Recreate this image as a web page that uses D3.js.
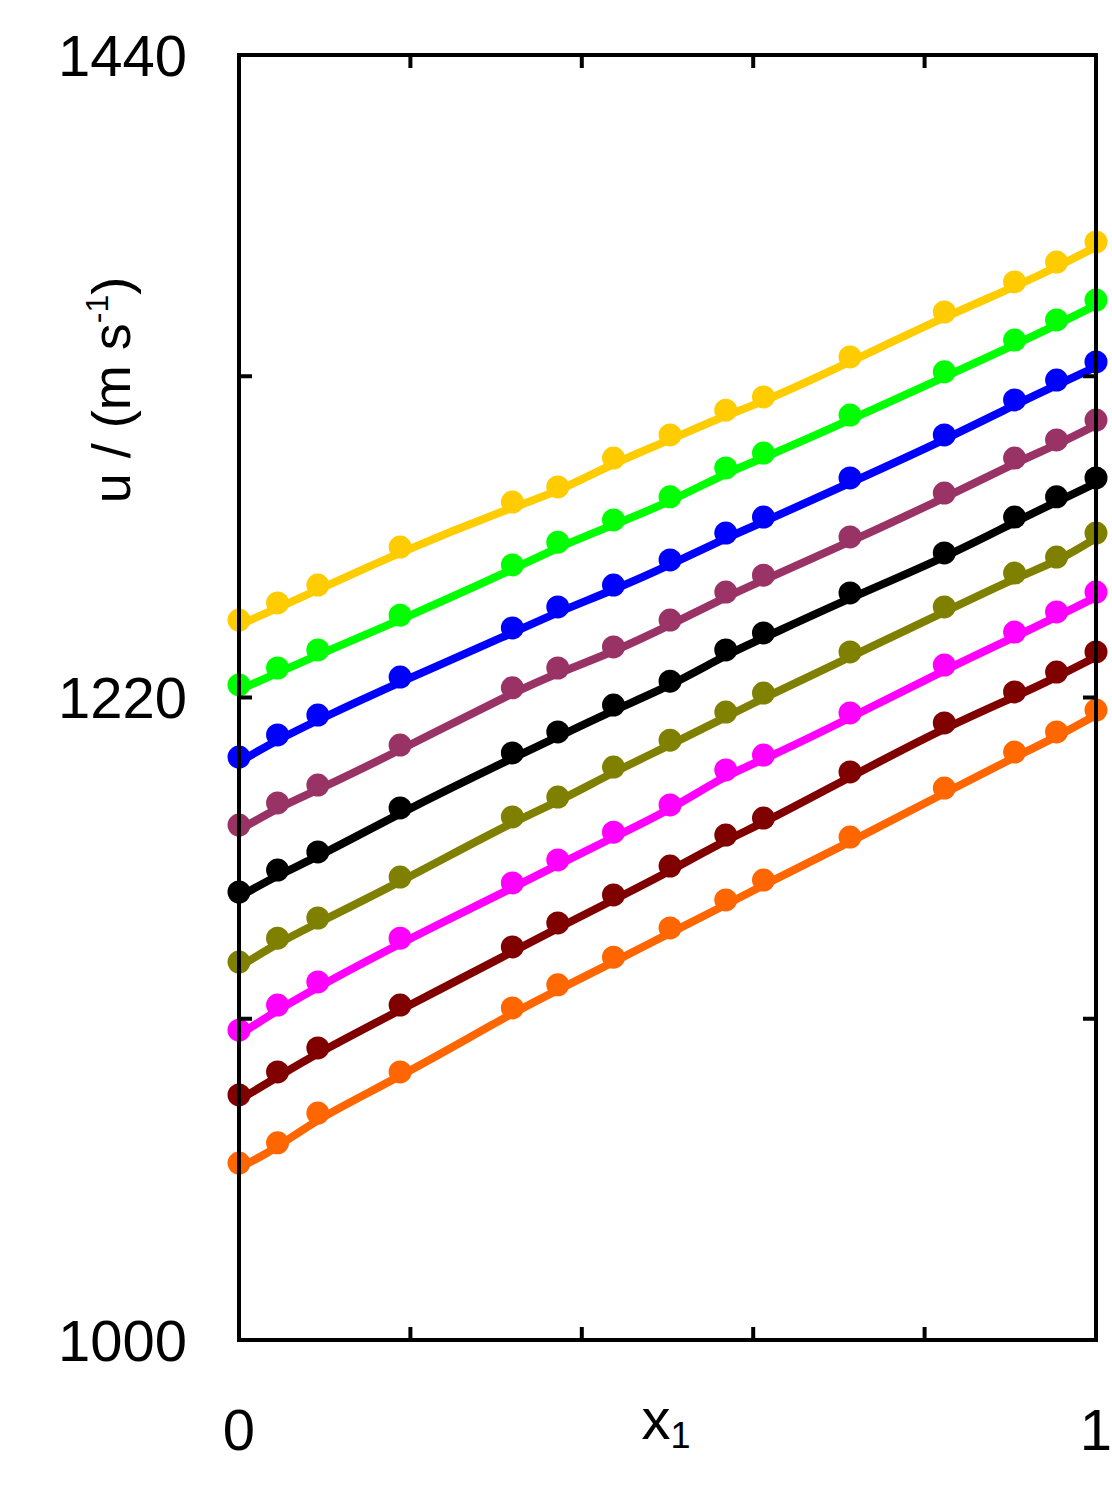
<!DOCTYPE html>
<html>
<head>
<meta charset="utf-8">
<script src="https://cdn.jsdelivr.net/npm/d3@7"></script>
<style>
  body { margin: 0; background: #fff; }
  text { font-family: 'Liberation Sans', Arial, sans-serif; fill: #000; }
</style>
</head>
<body>
<div class="container"></div>
<script>
// mole fraction x1 of each measured point
var xs = [0, 0.045, 0.092, 0.188, 0.319, 0.372, 0.437, 0.503, 0.568, 0.612, 0.713, 0.823, 0.905, 0.954, 1]

// speed of sound u / (m s-1), one list per curve, top to bottom
var uYellow  = [1246.5, 1252.4, 1258.5, 1271.5, 1286.9, 1292.1, 1302.0, 1309.9, 1318.4, 1322.9, 1336.6, 1352.0, 1362.3, 1369.1, 1376.0]
var uGreen   = [1224.3, 1230.1, 1236.3, 1248.2, 1265.4, 1273.2, 1280.8, 1288.7, 1298.6, 1303.7, 1316.7, 1331.5, 1342.4, 1349.3, 1356.1]
var uBlue    = [1199.6, 1207.2, 1214.0, 1227.0, 1243.8, 1251.0, 1258.5, 1267.1, 1276.3, 1281.8, 1295.2, 1309.9, 1321.9, 1328.7, 1334.9]
var uPurple  = [1176.3, 1183.9, 1190.0, 1203.7, 1223.3, 1230.1, 1237.3, 1246.5, 1256.1, 1261.9, 1275.0, 1290.0, 1302.0, 1308.2, 1315.0]
var uBlack   = [1153.4, 1160.9, 1167.1, 1182.2, 1201.0, 1208.2, 1217.4, 1225.6, 1236.3, 1242.1, 1255.8, 1269.5, 1281.8, 1288.7, 1295.2]
var uOlive   = [1129.4, 1137.6, 1144.5, 1158.5, 1179.1, 1185.9, 1196.2, 1205.4, 1215.0, 1221.5, 1235.6, 1251.0, 1262.6, 1268.1, 1276.3]
var uMagenta = [1106.1, 1114.7, 1122.6, 1137.6, 1156.5, 1164.4, 1173.9, 1183.2, 1195.2, 1200.3, 1214.7, 1231.1, 1242.4, 1249.3, 1256.1]
var uDarkRed = [1083.9, 1091.8, 1100.0, 1114.7, 1134.6, 1142.8, 1152.4, 1162.3, 1172.9, 1178.7, 1194.5, 1211.3, 1221.9, 1228.7, 1235.6]
var uOrange  = [1060.6, 1067.5, 1077.7, 1091.8, 1113.7, 1121.6, 1131.1, 1141.1, 1150.7, 1157.5, 1172.2, 1189.0, 1201.3, 1208.2, 1215.7]

var seriesValues = [uYellow, uGreen, uBlue, uPurple, uBlack, uOlive, uMagenta, uDarkRed, uOrange]
var seriesColors = ['#ffcc00', '#00ff00', '#0000ff', '#993366', '#000000', '#808000', '#ff00ff', '#800000', '#ff6600']

var yTicks = [1000, 1110, 1220, 1330, 1440]
var yTickLabels = [1000, 1220, 1440]
var xTicks = [0, 0.2, 0.4, 0.6, 0.8, 1]
var xTickLabels = [0, 1]

var width = 1112, height = 1489
// note: plain "top" would clash with window.top
var plotLeft = 239, plotRight = 1096, plotTop = 55, plotBottom = 1340

var x = d3.scaleLinear().domain([0, 1]).range([plotLeft, plotRight])
var y = d3.scaleLinear().domain([1000, 1440]).range([plotBottom, plotTop])

var svg = d3.select('.container')
  .append('svg')
    .attr('width', width)
    .attr('height', height)

var series = seriesValues.map(function(vals, i) {
  return { color: seriesColors[i], points: vals.map(function(v, j) { return [xs[j], v] }) }
})

// smooth curve through the points, like the fitted lines of the original
var line = d3.line()
  .curve(d3.curveBasis)
  .x(function(d) { return x(d[0]) })
  .y(function(d) { return y(d[1]) })

var g = svg.selectAll('g.series')
  .data(series)
  .enter()
  .append('g')
    .attr('class', 'series')

// fitted curve sits just under the points
g.append('path')
  .attr('d', function(d) { return line(d.points) })
  .attr('transform', 'translate(0,5)')
  .attr('fill', 'none')
  .attr('stroke', function(d) { return d.color })
  .attr('stroke-width', 8)

g.selectAll('circle')
  .data(function(d) { return d.points.map(function(p) { return { p: p, color: d.color } }) })
  .enter()
  .append('circle')
    .attr('cx', function(d) { return x(d.p[0]) })
    .attr('cy', function(d) { return y(d.p[1]) })
    .attr('r', 11.5)
    .attr('fill', function(d) { return d.color })

// frame and inward ticks on all four sides
var tickLen = 13
var axes = svg.append('g')
  .attr('stroke', '#000')
  .attr('stroke-width', 4)
  .attr('fill', 'none')

axes.append('rect')
  .attr('x', plotLeft)
  .attr('y', plotTop)
  .attr('width', plotRight - plotLeft)
  .attr('height', plotBottom - plotTop)

axes.selectAll('line.xt')
  .data(xTicks.slice(1, -1))
  .enter()
  .append('line')
    .attr('class', 'xt')
    .attr('x1', function(d) { return x(d) })
    .attr('x2', function(d) { return x(d) })
    .attr('y1', plotBottom)
    .attr('y2', plotBottom - tickLen)

axes.selectAll('line.xtt')
  .data(xTicks.slice(1, -1))
  .enter()
  .append('line')
    .attr('class', 'xtt')
    .attr('x1', function(d) { return x(d) })
    .attr('x2', function(d) { return x(d) })
    .attr('y1', plotTop)
    .attr('y2', plotTop + tickLen)

axes.selectAll('line.yt')
  .data(yTicks.slice(1, -1))
  .enter()
  .append('line')
    .attr('class', 'yt')
    .attr('x1', plotLeft)
    .attr('x2', plotLeft + tickLen)
    .attr('y1', function(d) { return y(d) })
    .attr('y2', function(d) { return y(d) })

axes.selectAll('line.ytr')
  .data(yTicks.slice(1, -1))
  .enter()
  .append('line')
    .attr('class', 'ytr')
    .attr('x1', plotRight)
    .attr('x2', plotRight - tickLen)
    .attr('y1', function(d) { return y(d) })
    .attr('y2', function(d) { return y(d) })

// tick labels
svg.selectAll('text.ylab')
  .data(yTickLabels)
  .enter()
  .append('text')
    .attr('class', 'ylab')
    .attr('x', 187)
    .attr('y', function(d) { return y(d) })
    .attr('dy', '0.36em')
    .attr('text-anchor', 'end')
    .attr('font-size', 58)
    .text(function(d) { return d })

svg.selectAll('text.xlab')
  .data(xTickLabels)
  .enter()
  .append('text')
    .attr('class', 'xlab')
    .attr('x', function(d) { return x(d) })
    .attr('y', 1450)
    .attr('text-anchor', 'middle')
    .attr('font-size', 58)
    .text(function(d) { return d })

// axis titles
var xt = svg.append('text')
  .attr('x', 666)
  .attr('y', 1439)
  .attr('text-anchor', 'middle')
  .attr('font-size', 58)
xt.append('tspan').text('x')
xt.append('tspan')
  .attr('font-size', 36)
  .attr('dy', 9)
  .text('1')

var yt = svg.append('text')
  .attr('transform', 'translate(130,390) rotate(-90)')
  .attr('text-anchor', 'middle')
  .attr('font-size', 54)
yt.append('tspan').text('u / (m s')
yt.append('tspan')
  .attr('font-size', 32)
  .attr('dy', -22)
  .text('-1')
yt.append('tspan')
  .attr('dy', 22)
  .text(')')
</script>
</body>
</html>
